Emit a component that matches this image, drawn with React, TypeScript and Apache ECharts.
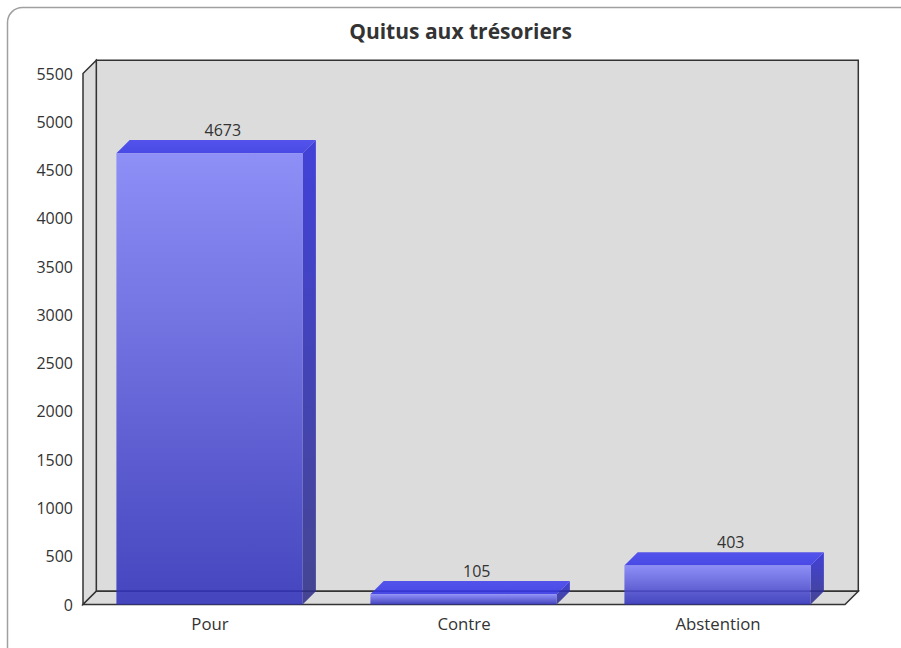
import React, { useEffect, useRef } from "react";
import * as echarts from "echarts";

const titleText = "Quitus aux trésoriers";
const categories = ["Pour", "Contre", "Abstention"];
const values = [4673, 105, 403];
const yMin = 0;
const yMax = 5500;
const yStep = 500;

const DEPTH = 13.3;
const FONT = '"Open Sans", sans-serif';

function grad(a: string, b: string) {
  return new echarts.graphic.LinearGradient(0, 0, 0, 1, [
    { offset: 0, color: a },
    { offset: 1, color: b },
  ]);
}

function renderWalls(params: any, api: any) {
  if (params.dataIndex !== 0) return { type: "group", children: [] };
  const { x, y, width, height } = params.coordSys;
  const l = x, r = x + width, t = y, b = y + height;
  const d = DEPTH;
  const edge = { stroke: "#333333", lineWidth: 1.5, fill: "#dcdcdc" };
  return {
    type: "group",
    children: [
      { type: "rect", shape: { x: l + d, y: t - d, width, height }, style: edge },
      { type: "polygon", shape: { points: [[l, t], [l + d, t - d], [l + d, b - d], [l, b]] }, style: edge },
      { type: "polygon", shape: { points: [[l, b], [l + d, b - d], [r + d, b - d], [r, b]] }, style: edge },
    ],
  };
}

function renderBar(params: any, api: any) {
  const cat = api.value(0);
  const val = api.value(1);
  const top = api.coord([cat, val]);
  const base = api.coord([cat, 0]);
  const w = api.size([1, 0])[0] * 0.733;
  const cx = top[0] - 0.5;
  const x0 = cx - w / 2;
  const x1 = cx + w / 2;
  const d = DEPTH;
  const yt = top[1];
  const yb = base[1];
  return {
    type: "group",
    children: [
      {
        type: "polygon",
        shape: { points: [[x1, yt], [x1 + d, yt - d], [x1 + d, yb - d], [x1, yb]] },
        style: { fill: grad("#2c2cd8", "#303088"), opacity: 0.88 },
      },
      {
        type: "polygon",
        shape: { points: [[x0, yt], [x0 + d, yt - d], [x1 + d, yt - d], [x1, yt]] },
        style: { fill: grad("#4040ee", "#3434e6"), opacity: 0.88 },
      },
      {
        type: "rect",
        shape: { x: x0, y: yt, width: w, height: yb - yt },
        style: { fill: grad("#8484fb", "#3030ba"), opacity: 0.88 },
      },
      {
        type: "text",
        style: {
          x: cx + d,
          y: yt - d - 10,
          text: String(val),
          align: "center",
          verticalAlign: "middle",
          fill: "#333333",
          font: `16px ${FONT}`,
        },
      },
    ],
  };
}

export default function App() {
  const ref = useRef<HTMLDivElement>(null);
  useEffect(() => {
    const chart = echarts.init(ref.current!, undefined, { renderer: "svg" });
    chart.setOption({
      animation: false,
      backgroundColor: "#ffffff",
      title: {
        text: titleText,
        left: 455.5,
        top: 15,
        textAlign: "center",
        textStyle: { fontFamily: FONT, fontSize: 21, fontWeight: "bold", color: "#333333" },
      },
      graphic: [
        {
          type: "rect",
          z: -1,
          shape: { x: 7.5, y: 7.5, width: 1000, height: 700, r: 15 },
          style: { fill: "#ffffff", stroke: "#a0a0a0", lineWidth: 1.5 },
        },
      ],
      grid: { left: 83, top: 73.5, width: 762, height: 531, containLabel: false },
      xAxis: {
        type: "category",
        data: categories,
        axisLine: { show: false },
        axisTick: { show: false },
        axisLabel: { fontFamily: FONT, fontSize: 16.8, color: "#333333", margin: 10 },
      },
      yAxis: {
        type: "value",
        min: yMin,
        max: yMax,
        interval: yStep,
        axisLine: { show: false },
        axisTick: { show: false },
        splitLine: { show: false },
        axisLabel: {
          fontFamily: FONT,
          fontSize: 16,
          color: "#333333",
          margin: 10,
          formatter: (v: number) => String(v),
        },
      },
      series: [
        {
          type: "custom",
          z: 1,
          silent: true,
          clip: false,
          renderItem: renderWalls,
          data: categories.map((_, i) => [i, 0]),
        },
        {
          type: "custom",
          z: 2,
          clip: false,
          renderItem: renderBar,
          encode: { x: 0, y: 1 },
          data: categories.map((_, i) => [i, values[i]]),
        },
      ],
    });
    return () => chart.dispose();
  }, []);
  return <div ref={ref} style={{ position: "fixed", left: 0, top: 0, width: 901, height: 648 }} />;
}
